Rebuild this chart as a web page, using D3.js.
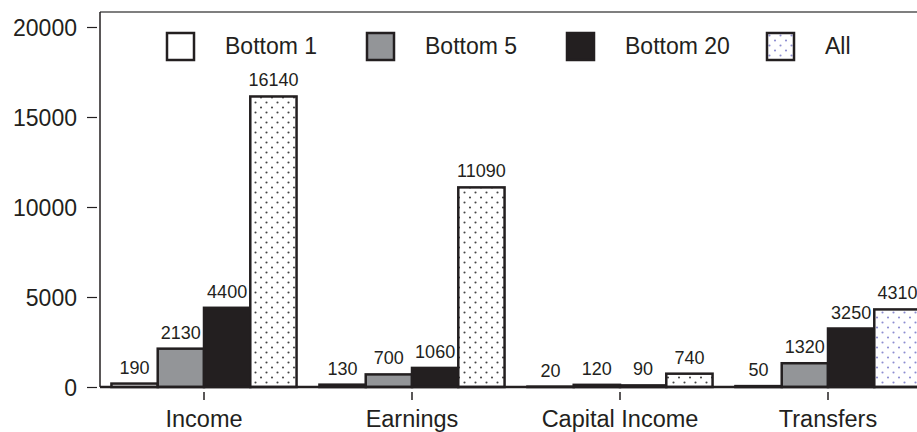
<!DOCTYPE html>
<html>
<head>
<meta charset="utf-8">
<script src="https://cdn.jsdelivr.net/npm/d3@7/dist/d3.min.js"></script>
<style>
  html, body { margin: 0; padding: 0; background: #fff; }
  svg { display: block; font-family: "Liberation Sans", Arial, Helvetica, sans-serif; }
</style>
</head>
<body>
<svg id="chart" width="917" height="432"></svg>
<script>
const categories = ["Income", "Earnings", "Capital Income", "Transfers"];
const seriesNames = ["Bottom 1", "Bottom 5", "Bottom 20", "All"];
const bottom1 = [190, 130, 20, 50];
const bottom5 = [2130, 700, 120, 1320];
const bottom20 = [4400, 1060, 90, 3250];
const allValues = [16140, 11090, 740, 4310];
const yTicks = [0, 5000, 10000, 15000, 20000];

(function () {
const seriesValues = [bottom1, bottom5, bottom20, allValues];
const ink = "#231f20";

const svg = d3.select("#chart");
const defs = svg.append("defs");

function dotPattern(id, color) {
  const p = defs.append("pattern").attr("id", id)
    .attr("patternUnits", "userSpaceOnUse")
    .attr("width", 11).attr("height", 10);
  p.append("rect").attr("width", 11).attr("height", 10).attr("fill", "#fff");
  p.append("circle").attr("cx", 2.5).attr("cy", 2.5).attr("r", 1.05).attr("fill", color);
  p.append("circle").attr("cx", 8).attr("cy", 7.5).attr("r", 1.05).attr("fill", color);
}
dotPattern("dotsDark", "#444");
dotPattern("dotsBlue", "#8c8cd0");

const fills = ["#ffffff", "#939598", ink, "url(#dotsDark)"];

const plotLeft = 100, plotRight = 932, plotTop = 12, plotBottom = 387;

const x = d3.scaleBand().domain(categories)
  .range([plotLeft, plotRight]).paddingInner(0.11).paddingOuter(0.055);
const xs = d3.scaleBand().domain(seriesNames).range([0, x.bandwidth()]).padding(0);
const y = d3.scaleLinear().domain([0, 20000]).range([plotBottom, 27]);

// frame
svg.append("line").attr("x1", plotLeft).attr("x2", plotRight).attr("y1", plotTop).attr("y2", plotTop)
  .attr("stroke", "#555").attr("stroke-width", 1.5);
svg.append("line").attr("x1", plotLeft).attr("x2", plotLeft).attr("y1", plotTop).attr("y2", plotBottom)
  .attr("stroke", ink).attr("stroke-width", 1.5);

// y axis
const yAxis = svg.append("g").attr("transform", `translate(97,0)`)
  .call(d3.axisLeft(y).tickValues(yTicks).tickSize(10).tickPadding(10).tickFormat(d3.format("d")));
yAxis.select(".domain").remove();
yAxis.selectAll(".tick line").attr("stroke", ink).attr("stroke-width", 1.2);
yAxis.selectAll(".tick text").attr("fill", ink).style("font-size", "23px")
  .attr("dy", "0.36em");

// x axis
const xAxis = svg.append("g").attr("transform", `translate(0,392)`)
  .call(d3.axisBottom(x).tickSize(8).tickPadding(10));
xAxis.select(".domain").remove();
xAxis.selectAll(".tick line").attr("stroke", ink).attr("stroke-width", 1.5);
xAxis.selectAll(".tick text").attr("fill", ink).style("font-size", "23.5px")
  .attr("dy", "0.74em");

// bars
const barData = [];
categories.forEach((c, ci) => {
  seriesNames.forEach((s, si) => {
    barData.push({ cat: c, ser: s, si, ci, v: seriesValues[si][ci] });
  });
});

svg.append("g").selectAll("rect").data(barData).join("rect")
  .attr("x", d => x(d.cat) + xs(d.ser))
  .attr("width", xs.bandwidth())
  .attr("y", d => y(d.v))
  .attr("height", d => y(0) - y(d.v))
  .attr("fill", d => (d.si === 3 && d.ci === 3) ? "url(#dotsBlue)" : fills[d.si])
  .attr("stroke", ink)
  .attr("stroke-width", 2.5);

// baseline
svg.append("line").attr("x1", plotLeft).attr("x2", plotRight).attr("y1", plotBottom).attr("y2", plotBottom)
  .attr("stroke", ink).attr("stroke-width", 2.5);

// value labels
svg.append("g").selectAll("text").data(barData).join("text")
  .attr("x", d => x(d.cat) + xs(d.ser) + xs.bandwidth() / 2)
  .attr("y", d => y(d.v) - 10)
  .attr("text-anchor", "middle")
  .attr("fill", ink)
  .style("font-size", "18px")
  .text(d => d.v);

// legend
const legendFills = ["#ffffff", "#939598", ink, "url(#dotsBlue)"];
const lg = svg.append("g").selectAll("g").data(seriesNames).join("g")
  .attr("transform", (d, i) => `translate(${167 + i * 200},33)`);
lg.append("rect").attr("width", 27).attr("height", 27)
  .attr("fill", (d, i) => legendFills[i]).attr("stroke", ink).attr("stroke-width", 2.5);
lg.append("text").attr("x", 58).attr("y", 21)
  .attr("fill", ink).style("font-size", "23px")
  .text(d => d);
})();
</script>
</body>
</html>
